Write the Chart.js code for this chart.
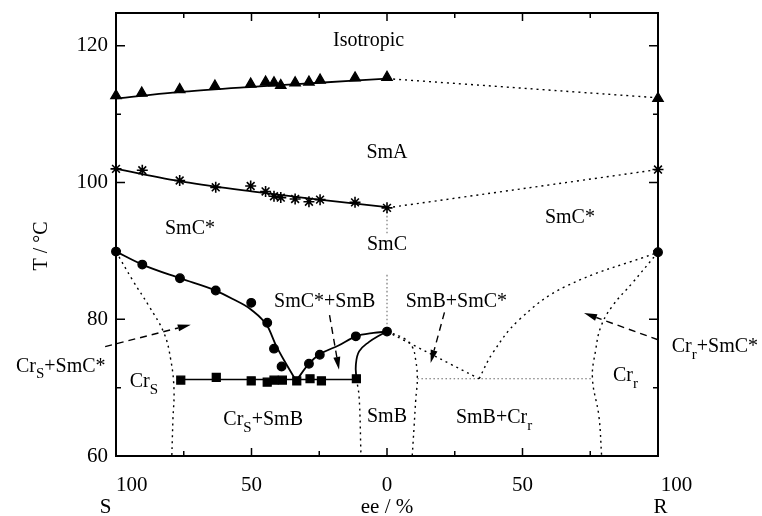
<!DOCTYPE html>
<html>
<head>
<meta charset="utf-8">
<script src="https://cdn.jsdelivr.net/npm/chart.js@4.4.1/dist/chart.umd.min.js"></script>
<style>
  html, body { margin: 0; padding: 0; background: #fff; }
  #wrap { width: 762px; height: 516px; }
</style>
</head>
<body>
<div id="wrap"><canvas id="phaseChart" width="762" height="516"></canvas></div>
<script>
// ee / % on one axis: negative side = S, positive side = R

// measured transition points
var isoEe = [-100, -90.5, -76.5, -63.5, -50.3, -44.8, -41.7, -39.2, -33.9, -28.8, -24.7, -11.8, 0, 100];
var isoT  = [112.7, 113.1, 113.6, 114.1, 114.4, 114.7, 114.6, 114.2, 114.6, 114.7, 115.0, 115.3, 115.4, 112.3];

var smaEe = [-100, -90.3, -76.5, -63.2, -50.3, -44.8, -41.7, -39.2, -33.9, -28.8, -24.7, -11.8, 0, 100];
var smaT  = [102.0, 101.8, 100.3, 99.3, 99.5, 98.7, 98.0, 97.8, 97.6, 97.2, 97.5, 97.1, 96.3, 101.9];

var smcEe = [-100, -90.3, -76.4, -63.2, -50.1, -44.2, -41.7, -38.9, -28.8, -24.8, -11.5, 0, 100];
var smcT  = [89.9, 88.0, 86.0, 84.2, 82.4, 79.5, 75.7, 73.1, 73.5, 74.8, 77.5, 78.2, 89.8];

var crEe = [-76.1, -63, -50.1, -44.2, -41.7, -38.6, -33.3, -28.4, -24.2, -11.3];
var crT  = [71.1, 71.5, 71.0, 70.8, 71.1, 71.1, 71.0, 71.3, 71.0, 71.3];

// drawn phase boundaries (solid)
var isoLineEe = [-100, -75, -50, -25, 0];
var isoLineT  = [112.3, 113.3, 114.0, 114.6, 115.2];
var smaLineEe = [-100, -75, -50, -25, 0];
var smaLineT  = [102.0, 100.1, 98.7, 97.5, 96.4];
var liqLeftEe = [-100, -90.3, -76.4, -63.2, -57.1, -50.1, -44, -41.1, -37.4, -33.5];
var liqLeftT  = [89.9, 88.0, 86.0, 84.2, 83.0, 81.4, 78.9, 76.3, 73.6, 71.0];
var liqRightEe = [-33.5, -28.8, -25.1, -17.7, -11.5, -5, 0];
var liqRightT  = [71.0, 73.5, 74.8, 76.2, 77.5, 78.0, 78.2];
var smbEdgeEe = [-11.3, -11.5, -10.3, -6.6, -3, 0];
var smbEdgeT  = [71.3, 73.3, 75.3, 76.7, 77.6, 78.2];
var eutEe = [-76.1, -11.3];
var eutT  = [71.2, 71.2];

// estimated boundaries (dotted)
var isoDotEe = [0, 100];
var isoDotT  = [115.2, 112.4];
var smaDotEe = [0, 100];
var smaDotT  = [96.3, 101.9];
var crsDotEe = [-100, -94, -87.8, -82.3, -79.8, -78.6, -79, -79.4];
var crsDotT  = [89.9, 85.8, 81.9, 78.0, 74.1, 69.7, 65.3, 60];
var smbLeftEe = [-11.3, -10.3, -9.6];
var smbLeftT  = [71.3, 68.7, 60];
var smbRightEe = [0, 6.3, 9.3, 10.6, 11.2, 10.6, 10.0, 9.3];
var smbRightT  = [78.2, 77.2, 76.0, 74.0, 71.4, 68.2, 64.3, 60];
var vDownEe = [0, 34];
var vDownT  = [78.2, 71.3];
var vUpEe = [34, 38.9, 48.7, 65.9, 100];
var vUpT  = [71.3, 75.0, 79.9, 84.8, 89.8];
var crrDotEe = [100, 90.5, 83.1, 78.9, 77, 75.8, 78.2, 79.2];
var crrDotT  = [89.8, 85.3, 81.9, 78.9, 75.5, 71.4, 65.8, 60];
var smcUpperEe = [0, 0];
var smcUpperT  = [96.3, 92.4];
var smcLowerEe = [0, 0];
var smcLowerT  = [86.5, 78.2];
var flatEe = [11.2, 75.8];
var flatT  = [71.3, 71.3];

// region labels
var labelText = ['Isotropic', 'SmA', 'SmC*', 'SmC*', 'SmC', 'SmC*+SmB', 'SmB+SmC*', 'Cr_S+SmC*', 'Cr_S', 'Cr_S+SmB', 'SmB', 'SmB+Cr_r', 'Cr_r', 'Cr_r+SmC*'];
var labelEe = [-6.8, 0, -72.7, 67.5, 0, -23, 25.6, -120.4, -89.7, -45.7, 0, 39.5, 88, 121];
var labelT  = [120.7, 104.4, 93.3, 94.8, 90.9, 82.6, 82.6, 73.1, 70.8, 65.3, 65.75, 65.6, 71.7, 76.0];

// dashed pointer arrows
var arrowFromEe = [-104, -21.2, 21.2, 100];
var arrowFromT  = [76.0, 80.6, 81.0, 77.0];
var arrowToEe = [-72.4, -17.7, 16.1, 72.7];
var arrowToT  = [79.2, 72.6, 73.6, 80.9];

// x tick labels (second line: enantiomer / axis name)
var xTickText = { '-100': ['100', 'S'], '-50': ['50'], '0': ['0', 'ee / %'], '50': ['50'], '100': ['100', 'R'] };

var SERIF = '"Liberation Serif", "Times New Roman", serif';
var NB = '\u00a0';

function pad(s, before, after) {
  return NB.repeat(before) + s + NB.repeat(after);
}

// the end labels sit off-centre in the original
function xLabel(v) {
  var t = xTickText[String(v)];
  if (!t) return '';
  if (v === -100) return [pad(t[0], 6, 0), pad(t[1], 0, 4)];
  if (v === 100) return [pad(t[0], 7, 0), pad(t[1], 1, 0)];
  return t;
}

function pts(xs, ys) {
  return xs.map(function (x, i) { return { x: x, y: ys[i] }; });
}

function markers(xs, ys, style, r, bw) {
  return { data: pts(xs, ys), showLine: false, pointStyle: style, pointRadius: r,
    pointBackgroundColor: '#000', pointBorderColor: '#000', pointBorderWidth: bw || 1.3, clip: false };
}
function solid(xs, ys, w, smooth) {
  var ds = { data: pts(xs, ys), borderColor: '#000', borderWidth: w || 1.8, pointRadius: 0, tension: 0.4, clip: false };
  if (smooth) ds.cubicInterpolationMode = 'monotone';
  return ds;
}
function dotted(xs, ys, color, dash, w) {
  return { data: pts(xs, ys), borderColor: color || '#000', borderWidth: w || 1.4,
    borderDash: dash || [2, 4], pointRadius: 0, tension: 0.4, clip: false };
}

function richParts(text) {
  var parts = [];
  for (var i = 0; i < text.length; i++) {
    if (text[i] === '_') { parts.push({ t: text[i + 1], sub: true }); i++; }
    else if (parts.length && !parts[parts.length - 1].sub) parts[parts.length - 1].t += text[i];
    else parts.push({ t: text[i], sub: false });
  }
  return parts;
}

function drawRich(ctx, text, cx, cy) {
  var parts = richParts(text), w = 0;
  parts.forEach(function (p) {
    ctx.font = (p.sub ? 15 : 20) + 'px ' + SERIF;
    p.w = ctx.measureText(p.t).width;
    w += p.w;
  });
  var x = cx - w / 2;
  parts.forEach(function (p) {
    ctx.font = (p.sub ? 15 : 20) + 'px ' + SERIF;
    ctx.fillText(p.t, x, p.sub ? cy + 8 : cy);
    x += p.w;
  });
}

function drawArrow(ctx, x1, y1, x2, y2) {
  var a = Math.atan2(y2 - y1, x2 - x1), len = 13, hw = 3.5;
  var bx = x2 - len * Math.cos(a), by = y2 - len * Math.sin(a);
  ctx.setLineDash([7, 5]);
  ctx.beginPath(); ctx.moveTo(x1, y1); ctx.lineTo(bx, by); ctx.stroke();
  ctx.setLineDash([]);
  ctx.beginPath();
  ctx.moveTo(x2, y2);
  ctx.lineTo(bx + hw * Math.sin(a), by - hw * Math.cos(a));
  ctx.lineTo(bx - hw * Math.sin(a), by + hw * Math.cos(a));
  ctx.closePath(); ctx.fill();
}

var decor = {
  id: 'decor',
  afterDatasetsDraw: function (chart) {
    var ctx = chart.ctx, x = chart.scales.x, y = chart.scales.y;
    ctx.save();
    ctx.fillStyle = '#000'; ctx.strokeStyle = '#000';
    ctx.textBaseline = 'middle'; ctx.textAlign = 'left';
    labelText.forEach(function (t, i) {
      drawRich(ctx, t, x.getPixelForValue(labelEe[i]), y.getPixelForValue(labelT[i]));
    });
    ctx.lineWidth = 1.4;
    arrowFromEe.forEach(function (e, i) {
      drawArrow(ctx, x.getPixelForValue(e), y.getPixelForValue(arrowFromT[i]),
        x.getPixelForValue(arrowToEe[i]), y.getPixelForValue(arrowToT[i]));
    });
    // axis title
    ctx.translate(42, 246);
    ctx.rotate(-Math.PI / 2);
    ctx.textAlign = 'center';
    ctx.font = '20px ' + SERIF;
    ctx.fillText('T / °C', 0, 0);
    ctx.restore();
  },
  afterDraw: function (chart) {
    var ctx = chart.ctx, a = chart.chartArea, x = chart.scales.x, y = chart.scales.y;
    ctx.save();
    ctx.strokeStyle = '#000';
    ctx.lineWidth = 2;
    ctx.strokeRect(a.left, a.top, a.right - a.left, a.bottom - a.top);
    ctx.lineWidth = 1.5;
    ctx.beginPath();
    x.ticks.forEach(function (t) {
      var px = x.getPixelForValue(t.value), len = t.value % 50 === 0 ? 8 : 5;
      ctx.moveTo(px, a.bottom); ctx.lineTo(px, a.bottom - len);
      ctx.moveTo(px, a.top); ctx.lineTo(px, a.top + len);
    });
    y.ticks.forEach(function (t) {
      if (t.value % 10 !== 0) return;
      var py = y.getPixelForValue(t.value), len = t.value % 20 === 0 ? 9 : 5;
      ctx.moveTo(a.left, py); ctx.lineTo(a.left + len, py);
      ctx.moveTo(a.right, py); ctx.lineTo(a.right - len, py);
    });
    ctx.stroke();
    ctx.restore();
  }
};

var grayDot = [1.5, 2.5];

new Chart(document.getElementById('phaseChart'), {
  type: 'line',
  data: {
    datasets: [
      markers(isoEe, isoT, 'triangle', 6),
      markers(smaEe, smaT, 'star', 5.5, 1.6),
      markers(smcEe, smcT, 'circle', 4.3),
      markers(crEe, crT, 'rect', 5.6),
      solid(isoLineEe, isoLineT, 1.8, true),
      solid(smaLineEe, smaLineT, 1.8, true),
      solid(liqLeftEe, liqLeftT, 1.8, true),
      solid(liqRightEe, liqRightT, 1.8, true),
      solid(smbEdgeEe, smbEdgeT),
      solid(eutEe, eutT, 1.4),
      dotted(isoDotEe, isoDotT),
      dotted(smaDotEe, smaDotT),
      dotted(crsDotEe, crsDotT),
      dotted(smbLeftEe, smbLeftT),
      dotted(smbRightEe, smbRightT),
      dotted(vDownEe, vDownT),
      dotted(vUpEe, vUpT),
      dotted(crrDotEe, crrDotT),
      dotted(smcUpperEe, smcUpperT, '#777', grayDot, 1.2),
      dotted(smcLowerEe, smcLowerT, '#777', grayDot, 1.2),
      dotted(flatEe, flatT, '#666', grayDot, 1.2)
    ]
  },
  options: {
    responsive: false,
    animation: false,
    devicePixelRatio: 1,
    layout: { padding: { left: 0, right: 104, top: 13, bottom: 0 } },
    plugins: { legend: { display: false }, tooltip: { enabled: false } },
    scales: {
      x: {
        type: 'linear', min: -100, max: 100,
        grid: { display: false, drawTicks: false },
        border: { display: false },
        ticks: {
          stepSize: 25, padding: 18, maxRotation: 0, autoSkip: false, color: '#000',
          font: { family: SERIF, size: 21, lineHeight: 1.05 },
          callback: xLabel
        },
        afterFit: function (s) { s.height = 60; s.paddingLeft = 0; s.paddingRight = 0; }
      },
      y: {
        type: 'linear', min: 60, max: 124.8,
        grid: { display: false, drawTicks: false },
        border: { display: false },
        ticks: {
          stepSize: 10, padding: 8, includeBounds: false, color: '#000',
          font: { family: SERIF, size: 21 },
          callback: function (v) { return v % 20 === 0 ? String(v) : ''; }
        },
        afterFit: function (s) { s.width = 116; s.paddingTop = 0; s.paddingBottom = 0; }
      }
    }
  },
  plugins: [decor]
});
</script>
</body>
</html>
